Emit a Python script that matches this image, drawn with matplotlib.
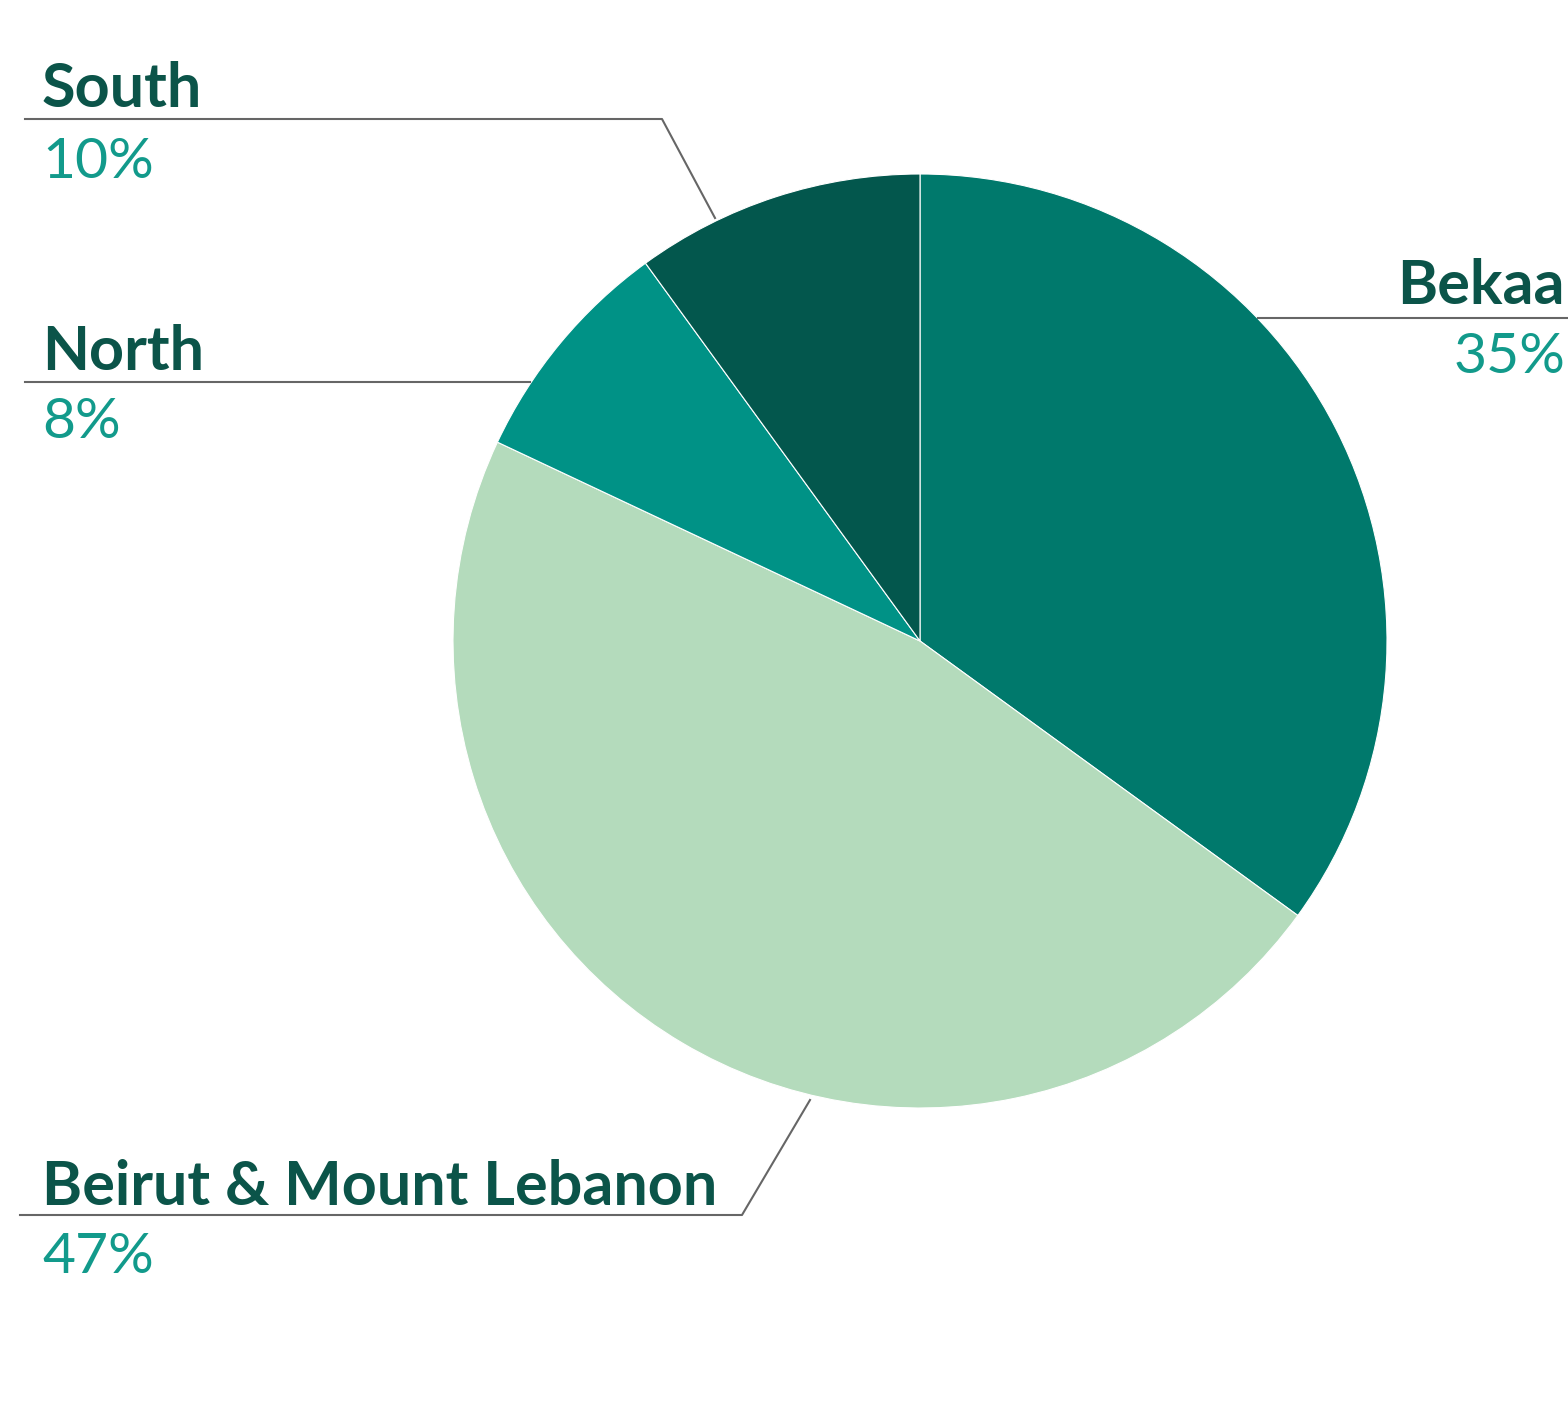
import matplotlib.pyplot as plt

# region shares (%), clockwise from 12 o'clock
regions = ['Bekaa', 'Beirut & Mount Lebanon', 'North', 'South']
shares = [35, 47, 8, 10]
slice_colors = ['#00796c', '#b4dbbc', '#009286', '#03574d']

NAME_COLOR = '#0b5449'
PCT_COLOR = '#129a8b'
LINE_COLOR = '#666666'

W, H = 1568, 1404
fig = plt.figure(figsize=(W / 100, H / 100), dpi=100)
ax = fig.add_axes([0, 0, 1, 1])

# pixel coords measured from top -> flip
def fy(y):
    return H - y

cx, cy, r = 920, fy(641), 467
ax.pie(shares, colors=slice_colors, startangle=90, counterclock=False,
       center=(cx, cy), radius=r, frame=True,
       wedgeprops=dict(edgecolor='white', linewidth=0.8))
ax.set_xlim(0, W)
ax.set_ylim(0, H)
ax.set_aspect('equal')
ax.axis('off')

# leader lines
lw = 1.5
ax.plot([25, 662, 715], [fy(119), fy(119), fy(218)], color=LINE_COLOR, lw=lw)
ax.plot([25, 530], [fy(382), fy(382)], color=LINE_COLOR, lw=lw)
ax.plot([1258, 1568], [fy(318), fy(318)], color=LINE_COLOR, lw=lw)
ax.plot([20, 742, 810], [fy(1215), fy(1215), fy(1100)], color=LINE_COLOR, lw=lw)

name_kw = dict(fontsize=44, fontweight='bold', family='Lato', color=NAME_COLOR,
               va='baseline')
pct_kw = dict(fontsize=41, family='Lato', color=PCT_COLOR, va='baseline')

labels = {
    'South': (42, 107, 178, 'left'),
    'North': (42, 370, 438, 'left'),
    'Bekaa': (1565, 304, 373, 'right'),
    'Beirut & Mount Lebanon': (42, 1205, 1273, 'left'),
}
for name, val in zip(regions, shares):
    x, yn, yp, ha = labels[name]
    ax.text(x, fy(yn), name, ha=ha, **name_kw)
    ax.text(x, fy(yp), f'{val}%', ha=ha, **pct_kw)

fig.savefig('out.png', dpi=100)
